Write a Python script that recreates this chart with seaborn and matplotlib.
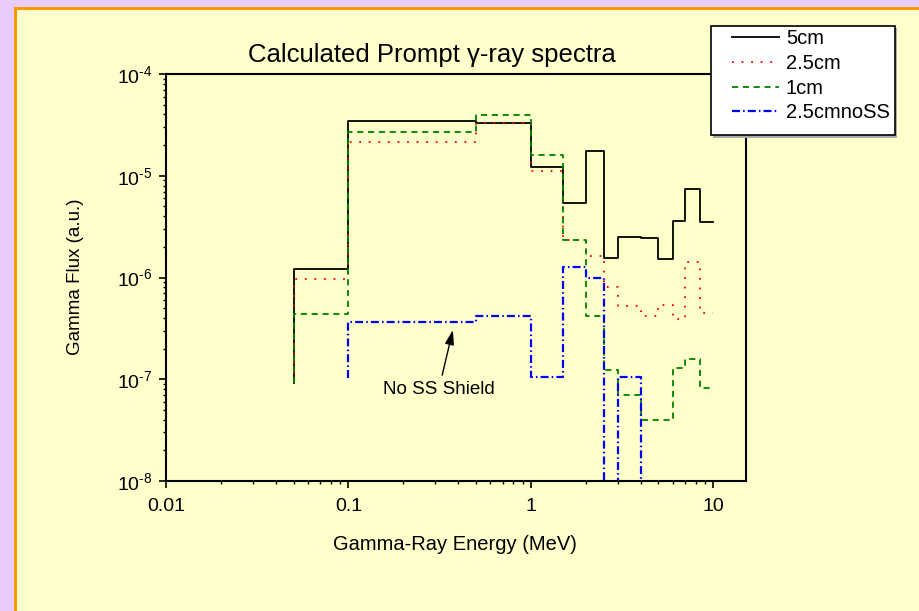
import numpy as np
import pandas as pd
import matplotlib
matplotlib.use("Agg")
import matplotlib.pyplot as plt
import seaborn as sns
from matplotlib.patches import Rectangle
from matplotlib.ticker import FixedLocator, FixedFormatter, LogLocator, NullFormatter

# ---------------- data ----------------
energy = [0.05, 0.1, 0.5, 1.0, 1.5, 2.0, 2.5, 3.0, 4.0, 5.0, 6.0, 7.0, 8.5, 10.0]
flux_5cm = [9.2e-8, 1.21e-6, 3.43e-5, 3.27e-5, 1.21e-5, 5.43e-6, 1.76e-5,
            1.55e-6, 2.50e-6, 2.43e-6, 1.52e-6, 3.59e-6, 7.41e-6, 3.55e-6]
flux_2p5cm = [9.2e-8, 9.66e-7, 2.16e-5, 3.32e-5, 1.11e-5, 2.34e-6, 1.63e-6,
              8.13e-7, 5.25e-7, 4.2e-7, 5.4e-7, 3.9e-7, 1.43e-6, 4.47e-7]
flux_1cm = [9.2e-8, 4.37e-7, 2.71e-5, 3.93e-5, 1.6e-5, 2.34e-6, 4.2e-7,
            1.23e-7, 7.05e-8, 3.98e-8, 3.98e-8, 1.29e-7, 1.58e-7, 8.26e-8]
energy_noss = [0.1, 0.5, 1.0, 1.5, 2.0, 2.5, 3.0, 4.0, 5.0, 6.0, 7.0, 8.5, 10.0]
flux_2p5cm_noss = [1.04e-7, 3.68e-7, 4.21e-7, 1.05e-7, 1.28e-6, 1.0e-6, 0.0,
                   1.05e-7, 0.0, 0.0, 0.0, 0.0, 0.0]
series_labels = ["5cm", "2.5cm", "1cm", "2.5cmnoSS"]
xtick_values = [0.01, 0.1, 1, 10]
xtick_labels = ["0.01", "0.1", "1", "10"]
ytick_values = [1e-8, 1e-7, 1e-6, 1e-5, 1e-4]
ytick_labels = [r"$10^{\text{-8}}$", r"$10^{\text{-7}}$", r"$10^{\text{-6}}$",
                r"$10^{\text{-5}}$", r"$10^{\text{-4}}$"]
title_text = "Calculated Prompt \u03b3-ray spectra"
xlabel_text = "Gamma-Ray Energy (MeV)"
ylabel_text = "Gamma Flux (a.u.)"
annotation_text = "No SS Shield"
annotation_xy = (0.3736, 3.05e-7)
annotation_text_xy = (0.313, 8.0e-8)

# ---------------- style ----------------
plt.rcParams["font.family"] = ["Liberation Sans", "DejaVu Sans"]
plt.rcParams["mathtext.fontset"] = "custom"
plt.rcParams["mathtext.rm"] = "Liberation Sans"
plt.rcParams["mathtext.it"] = "Liberation Sans:italic"
plt.rcParams["mathtext.bf"] = "Liberation Sans:bold"
plt.rcParams["mathtext.default"] = "regular"
plt.rcParams["axes.unicode_minus"] = False

W, H = 920, 611
def fx(px):
    return px / W
def fy(py):
    return 1 - py / H

fig = plt.figure(figsize=(W / 100, H / 100), dpi=100)
fig.patch.set_facecolor("#E8CCFC")
panel = Rectangle((fx(15.5), -0.05), 1.2, fy(8.5) + 0.05, transform=fig.transFigure,
                  facecolor="#FFFFCC", edgecolor="#FF9900", linewidth=2.2, zorder=-1)
fig.patches.append(panel)

ax = fig.add_axes([fx(166), fy(481), fx(746) - fx(166), fy(74) - fy(481)])
ax.set_facecolor("#FFFFCC")

df_main = pd.DataFrame({"energy": energy, "5cm": flux_5cm, "2.5cm": flux_2p5cm, "1cm": flux_1cm})
df_noss = pd.DataFrame({"energy": energy_noss, "2.5cmnoSS": flux_2p5cm_noss})

sns.lineplot(data=df_main, x="energy", y="5cm", ax=ax, color="black", lw=1.3,
             drawstyle="steps-pre", legend=False)
sns.lineplot(data=df_main, x="energy", y="2.5cm", ax=ax, color="#FF0000", lw=1.3,
             linestyle=(0, (1, 4.3)), drawstyle="steps-pre", legend=False)
sns.lineplot(data=df_main, x="energy", y="1cm", ax=ax, color="#008000", lw=1.3,
             linestyle=(0, (3.4, 2.6)), drawstyle="steps-pre", legend=False)
sns.lineplot(data=df_noss, x="energy", y="2.5cmnoSS", ax=ax, color="#0000FF", lw=1.6,
             linestyle=(0, (3.6, 1.4, 0.7, 1.4)), drawstyle="steps-pre", legend=False)

ax.set_xscale("log")
ax.set_yscale("log", nonpositive="clip")
ax.set_xlim(0.01, 15.1)
ax.set_ylim(1e-8, 1e-4)

ax.xaxis.set_major_locator(FixedLocator(xtick_values))
ax.xaxis.set_major_formatter(FixedFormatter(xtick_labels))
ax.xaxis.set_minor_locator(LogLocator(base=10, subs=np.arange(2, 10), numticks=30))
ax.xaxis.set_minor_formatter(NullFormatter())
ax.yaxis.set_major_locator(FixedLocator(ytick_values))
ax.yaxis.set_major_formatter(FixedFormatter(ytick_labels))
ax.yaxis.set_minor_locator(LogLocator(base=10, subs=np.arange(2, 10), numticks=30))
ax.yaxis.set_minor_formatter(NullFormatter())

ax.tick_params(which="major", direction="out", length=5, width=1.2, labelsize=14,
               colors="black", top=False, right=False)
ax.tick_params(axis="x", which="major", pad=7)
ax.tick_params(axis="y", which="major", pad=5)
ax.tick_params(which="minor", direction="out", length=2.5, width=1.0, top=False, right=False)
for sp in ax.spines.values():
    sp.set_linewidth(1.5)
    sp.set_color("black")
ax.set_xlabel("")
ax.set_ylabel("")
ax.grid(False)

ax.annotate(annotation_text, xy=annotation_xy, xytext=annotation_text_xy,
            ha="center", va="center", fontsize=13.5, color="black",
            arrowprops=dict(arrowstyle="-|>,head_length=0.8,head_width=0.25",
                            mutation_scale=11, color="black", lw=1.0, shrinkB=0))

fig.text(fx(432), fy(55), title_text, ha="center", va="center", fontsize=18.5)
fig.text(fx(455), fy(544), xlabel_text, ha="center", va="center", fontsize=14.5)
fig.text(fx(76), fy(277), ylabel_text, ha="center", va="center", rotation=90, fontsize=13.5)

# legend box
shadow = Rectangle((fx(713.5), fy(137.5)), fx(895) - fx(711), fy(26) - fy(135),
                   transform=fig.transFigure, facecolor="#AAAAAA", edgecolor="none", zorder=4)
box = Rectangle((fx(711), fy(135)), fx(895) - fx(711), fy(26) - fy(135),
                transform=fig.transFigure, facecolor="white", edgecolor="black",
                linewidth=1.2, zorder=5)
fig.patches.append(shadow)
fig.patches.append(box)
handles = ax.get_lines()[:4]
leg = fig.legend(handles=handles, labels=series_labels, loc="upper left",
                 bbox_to_anchor=(fx(732), fy(29.5)), frameon=False, borderpad=0,
                 borderaxespad=0, fontsize=14.5, handlelength=2.33,
                 handletextpad=0.35, labelspacing=0.28)
leg.set_zorder(6)

fig.savefig("out.png", dpi=100, facecolor=fig.get_facecolor())
